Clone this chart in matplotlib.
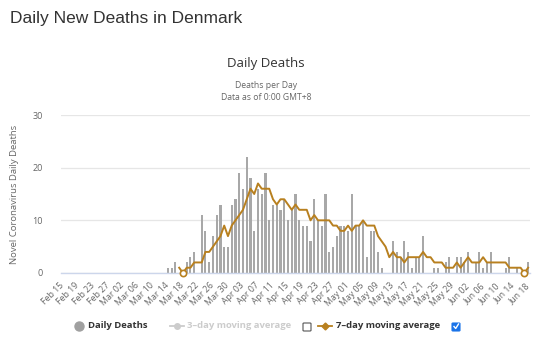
import numpy as np
import pandas as pd
import matplotlib
matplotlib.use("Agg")
import matplotlib.pyplot as plt
from matplotlib.lines import Line2D
from matplotlib.patches import FancyBboxPatch

# Tageswerte Todesfälle Dänemark, 15.02. - 18.06.2020
dates = pd.date_range("2020-02-15", "2020-06-18", freq="D")

deaths_feb = [0] * 15                      # Feb 15 - Feb 29
deaths_mar = [0] * 13 + [                  # Mar 01 - Mar 13 ohne Fälle
    1, 1, 2, 0, 0, 2, 3, 4, 0, 11, 8, 2, 7, 11, 13, 5, 5, 13]
deaths_apr = [14, 19, 16, 22, 18, 8, 16, 15, 19, 10,
              13, 13, 12, 14, 10, 12, 15, 10, 9, 9,
              6, 14, 10, 9, 15, 4, 5, 7, 9, 9]
deaths_may = [8, 15, 9, 9, 10, 3, 8, 8, 4, 1,
              0, 0, 6, 4, 3, 6, 4, 1, 3, 3,
              7, 0, 0, 1, 1, 0, 2, 3, 0, 3, 3]
deaths_jun = [2, 4, 0, 2, 4, 1, 2, 4, 0, 0,
              0, 1, 3, 0, 1, 0, 0, 2]
daily_deaths = deaths_feb + deaths_mar + deaths_apr + deaths_may + deaths_jun

# 7-Tage-Mittel (gerundet), beginnt am 17.03.
ma7_start = "2020-03-17"
ma7_values = [1, 0, 1, 1, 2, 2, 2, 4, 4, 5, 6, 7, 9, 7, 9,
              10, 11, 12, 14, 16, 15, 17, 16, 16, 16, 14, 13, 14, 14, 13,
              12, 13, 12, 12, 12, 10, 11, 10, 10, 10, 10, 9, 9, 8, 8,
              9, 8, 9, 9, 10, 9, 9, 9, 7, 6, 5, 3, 4, 3, 3,
              2, 3, 3, 3, 3, 4, 3, 3, 2, 2, 2, 1, 1, 1, 2, 1,
              2, 3, 2, 2, 2, 3, 2, 2, 2, 2, 2, 2, 1, 1, 1, 1, 0, 1]

tick_labels = [d.strftime("%b %d") for d in dates[::4]]

x = np.arange(len(dates))
ma7_x = np.arange(len(ma7_values)) + dates.get_loc(pd.Timestamp(ma7_start))

fig = plt.figure(figsize=(5.39, 3.42), dpi=100)
ax = fig.add_axes([0.1132, 0.2018, 0.8701, 0.4619])

bar_col = "#a8a8a8"
line_col = "#b8801f"

ax.bar(x, daily_deaths, width=0.55, color=bar_col, zorder=2)
ax.plot(ma7_x, ma7_values, color=line_col, lw=1.4, zorder=3)
# Punkte mit Wert 0 bekommen einen Marker
zero_pts = [i for i, v in enumerate(ma7_values) if v == 0]
ax.plot(ma7_x[zero_pts], [ma7_values[i] for i in zero_pts], "o",
        ms=4.5, mfc="white", mec=line_col, mew=1.2, zorder=4, clip_on=False)

ax.set_xlim(-0.5, len(dates) - 0.5)
ax.set_ylim(0, 30)
ax.set_yticks([0, 10, 20, 30])
ax.set_xticks(x[::4])
ax.set_xticklabels(tick_labels, rotation=45, ha="right", va="center",
                   rotation_mode="anchor", fontsize=6.3, color="#666666",
                   family="Open Sans")
ax.tick_params(axis="x", length=0, pad=8)
ax.tick_params(axis="y", length=0, pad=13, labelsize=6.5, labelcolor="#666666")
for lbl in ax.get_yticklabels():
    lbl.set_family("Open Sans")

ax.grid(axis="y", color="#e6e6e6", lw=0.9, zorder=0)
for s in ["top", "right", "left"]:
    ax.spines[s].set_visible(False)
ax.spines["bottom"].set_color("#ccd6eb")
ax.spines["bottom"].set_linewidth(1.0)

ax.set_ylabel("Novel Coronavirus Daily Deaths", fontsize=6.8, color="#666666",
              family="Open Sans", labelpad=10)

# Überschriften
fig.text(10 / 539, 1 - 18 / 342, "Daily New Deaths in Denmark", fontsize=12.5,
         color="#333333", family="Liberation Sans", va="center", ha="left")
fig.text(266 / 539, 1 - 64 / 342, "Daily Deaths", fontsize=9.5,
         color="#333333", family="Open Sans", va="center", ha="center")
fig.text(266 / 539, 1 - 86 / 342, "Deaths per Day", fontsize=6.2,
         color="#666666", family="Open Sans", va="center", ha="center")
fig.text(266 / 539, 1 - 97 / 342, "Data as of 0:00 GMT+8", fontsize=6.2,
         color="#666666", family="Open Sans", va="center", ha="center")

# Legende von Hand
ly = 1 - 326 / 342
def fx(px):
    return px / 539

fig.add_artist(Line2D([fx(79)], [ly], marker="o", ms=6.5, color="#a0a0a0",
                      transform=fig.transFigure))
fig.text(fx(88), ly, "Daily Deaths", fontsize=6.8, weight="bold",
         color="#333333", va="center", family="Open Sans")

fig.add_artist(Line2D([fx(170), fx(184)], [ly, ly], color="#cccccc", lw=1.3,
                      transform=fig.transFigure))
fig.add_artist(Line2D([fx(177)], [ly], marker="o", ms=4, color="#cccccc",
                      transform=fig.transFigure))
fig.text(fx(187), ly, "3\u2013day moving average", fontsize=6.8, weight="bold",
         color="#cccccc", va="center", family="Open Sans")

fig.add_artist(FancyBboxPatch((fx(303), 1 - 331 / 342), fx(8), 8 / 342,
                              boxstyle="round,pad=0,rounding_size=0.002",
                              fc="white", ec="#555555", lw=0.8,
                              transform=fig.transFigure))

fig.add_artist(Line2D([fx(318), fx(332)], [ly, ly], color=line_col, lw=1.3,
                      transform=fig.transFigure))
fig.add_artist(Line2D([fx(325)], [ly], marker="D", ms=3.5, color=line_col,
                      transform=fig.transFigure))
fig.text(fx(336), ly, "7\u2013day moving average", fontsize=6.8, weight="bold",
         color="#333333", va="center", family="Open Sans")

fig.add_artist(FancyBboxPatch((fx(452), 1 - 331 / 342), fx(8), 8 / 342,
                              boxstyle="round,pad=0,rounding_size=0.002",
                              fc="#1a73e8", ec="#1a73e8", lw=0.8,
                              transform=fig.transFigure))
fig.add_artist(Line2D([fx(454), fx(455.7), fx(458.5)],
                      [1 - 326.5 / 342, 1 - 328.5 / 342, 1 - 324 / 342],
                      color="white", lw=1.0, transform=fig.transFigure))

fig.savefig("out.png", dpi=100)
